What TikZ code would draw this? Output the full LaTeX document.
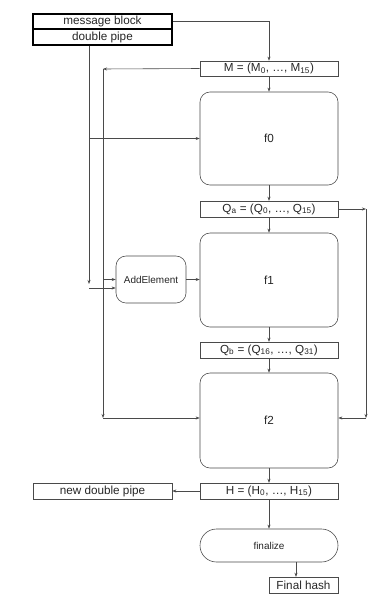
\documentclass[tikz,border=0pt]{standalone}
\usepackage{fontspec}
\setmainfont{Liberation Sans}
\usepackage{tikz}
\usetikzlibrary{arrows.meta}
\definecolor{LineGray}{HTML}{4A4A4A}
\definecolor{TextGray}{HTML}{262626}

\begin{document}
\begin{tikzpicture}[x=0.03cm, y=-0.03cm,
    every node/.style={text=TextGray, font=\fontsize{10}{12}\selectfont},
    regbox/.style={draw=LineGray, line width=0.5pt, minimum width=4.14cm, minimum height=0.47cm, inner sep=0pt},
    inbox/.style={draw=black, line width=1.2pt, minimum width=4.17cm, inner sep=0pt},
    roundbox/.style={draw=LineGray, line width=0.5pt, rounded corners=0.3cm, minimum width=4.14cm, inner sep=0pt},
    smalltext/.style={font=\fontsize{8.5}{10}\selectfont},
    arr/.style={draw=LineGray, line width=0.5pt, -{Stealth[length=3.5pt, width=2.6pt]}}]
    \useasboundingbox (0,0) rectangle (391,594);
    % input block
    \node[inbox, minimum height=0.45cm] (msg) at (102.5,21.5) {message block};
    \node[inbox, minimum height=0.48cm] (pipe) at (102.5,37) {double pipe};
    % main column
    \node[regbox, minimum height=0.45cm] (M) at (269,68.5) {M = (M\textsubscript{0}, …, M\textsubscript{15})};
    \node[roundbox, minimum height=2.79cm] (f0) at (269,138.5) {f0};
    \node[regbox] (Qa) at (269,209) {Q\textsubscript{a} = (Q\textsubscript{0}, …, Q\textsubscript{15})};
    \node[roundbox, minimum height=2.82cm] (f1) at (269,280) {f1};
    \node[regbox] (Qb) at (269,350) {Q\textsubscript{b} = (Q\textsubscript{16}, …, Q\textsubscript{31})};
    \node[roundbox, minimum height=2.85cm] (f2) at (269,420.5) {f2};
    \node[regbox] (H) at (269,491) {H = (H\textsubscript{0}, …, H\textsubscript{15})};
    \node[regbox, minimum width=4.17cm] (newpipe) at (102.5,491) {new double pipe};
    \node[roundbox, smalltext, rounded corners=0.495cm, minimum height=0.99cm] (fin) at (269,545.5) {finalize};
    \node[regbox, minimum width=2.07cm] (hash) at (303.5,585) {Final hash};
    \node[roundbox, smalltext, minimum width=2.1cm, minimum height=1.41cm] (add) at (151,279.5) {AddElement};
    % junction points
    \coordinate (mleft) at (103,69);
    \coordinate (mdown) at (103,418);
    \coordinate (pdown) at (89,284);
    \coordinate (qright) at (366,209);
    \coordinate (qdown) at (366,418);
    \coordinate (finout) at (296,562);
    % connectors
    \draw[arr] (msg.east) -| (M.north);
    \draw[arr] (M.west) -- (mleft);
    \draw[arr] (mleft) -- (mdown);
    \draw[arr] (mdown) -- (f2.west |- mdown);
    \draw[arr] (103,279.5) -- (add.west);
    \draw[arr] (pipe.south -| pdown) -- (pdown);
    \draw[arr] (89,138.5) -- (f0.west);
    \draw[arr] (89,288) -- (add.west |- 0,288);
    \draw[arr] (add.east) -- (f1.west |- add.east);
    \draw[arr] (M.south) -- (f0.north);
    \draw[arr] (f0.south) -- (Qa.north);
    \draw[arr] (Qa.south) -- (f1.north);
    \draw[arr] (f1.south) -- (Qb.north);
    \draw[arr] (Qb.south) -- (f2.north);
    \draw[arr] (f2.south) -- (H.north);
    \draw[arr] (Qa.east) -- (qright);
    \draw[arr] (qright) -- (qdown);
    \draw[arr] (qdown) -- (f2.east |- qdown);
    \draw[arr] (H.west) -- (newpipe.east);
    \draw[arr] (H.south) -- (fin.north);
    \draw[arr] (finout) -- (finout |- hash.north);
\end{tikzpicture}
\end{document}
